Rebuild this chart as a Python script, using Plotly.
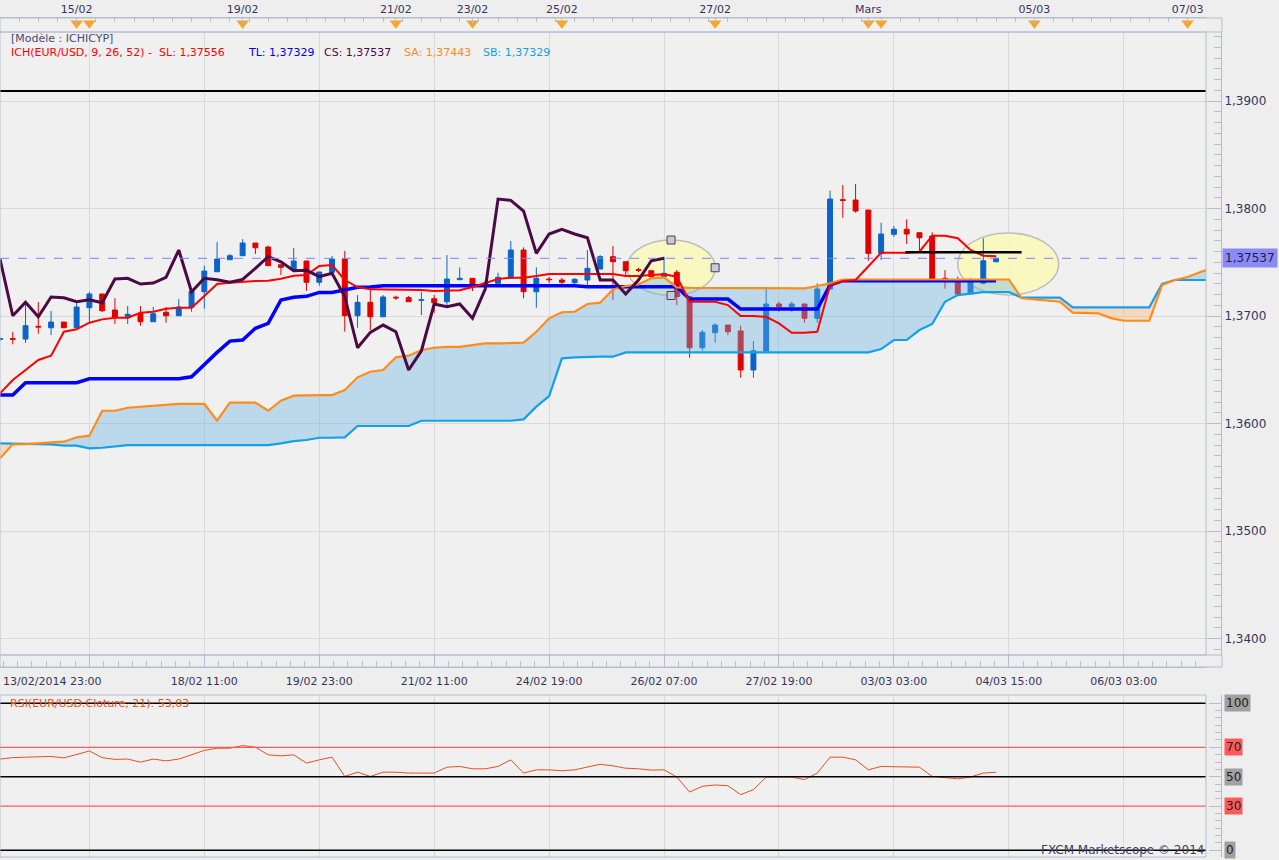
import numpy as np
import plotly.graph_objects as go

W, H = 1279, 860

####
# EUR/USD 4h candles (bar 0 = left edge of the chart)
open_ = [1.36782, 1.36790, 1.36786, 1.36904, 1.36891, 1.36944, 1.36891, 1.37077, 1.37205, 1.37056,
         1.36984, 1.37025, 1.36947, 1.37035, 1.37003, 1.37081, 1.37226, 1.37412, 1.37524, 1.37561,
         1.37679, 1.37642, 1.37477, 1.37428, 1.37512, 1.37314, 1.37407, 1.37530, 1.37003, 1.37128,
         1.36993, 1.37175, 1.37171, 1.37146, 1.37161, 1.37133, 1.37338, 1.37351, 1.37279, 1.37304,
         1.37351, 1.37614, 1.37226, 1.37344, 1.37335, 1.37310, 1.37335, 1.37437, 1.37552, 1.37505,
         1.37431, 1.37421, 1.37366, 1.37407, 1.37180, 1.36705, 1.36845, 1.36916, 1.36861, 1.36498,
         1.36674, 1.37112, 1.37087, 1.37112, 1.36979, 1.37251, 1.38082, 1.38079, 1.37986, 1.37583,
         1.37760, 1.37807, 1.37775, 1.37744, 1.37351, 1.37335, 1.37205, 1.37304, 1.37505]
high = [1.36800, 1.36854, 1.37112, 1.37130, 1.37047, 1.36944, 1.37130, 1.37226, 1.37205, 1.37167,
        1.37093, 1.37093, 1.37084, 1.37084, 1.37158, 1.37230, 1.37468, 1.37688, 1.37577, 1.37716,
        1.37679, 1.37654, 1.37477, 1.37633, 1.37512, 1.37409, 1.37558, 1.37605, 1.37195, 1.37242,
        1.37195, 1.37189, 1.37186, 1.37226, 1.37195, 1.37567, 1.37453, 1.37351, 1.37335, 1.37403,
        1.37698, 1.37639, 1.37453, 1.37363, 1.37354, 1.37354, 1.37614, 1.37567, 1.37651, 1.37505,
        1.37449, 1.37421, 1.37552, 1.37428, 1.37180, 1.36870, 1.36932, 1.36916, 1.36910, 1.36767,
        1.37251, 1.37133, 1.37133, 1.37112, 1.37304, 1.38166, 1.38219, 1.38228, 1.37986, 1.37868,
        1.37837, 1.37900, 1.37775, 1.37778, 1.37428, 1.37366, 1.37354, 1.37723, 1.37546]
low = [1.36770, 1.36737, 1.36749, 1.36835, 1.36823, 1.36891, 1.36891, 1.36947, 1.37037, 1.36926,
       1.36926, 1.36910, 1.36947, 1.36938, 1.37003, 1.37040, 1.37068, 1.37412, 1.37524, 1.37561,
       1.37577, 1.37468, 1.37381, 1.37428, 1.37235, 1.37282, 1.37407, 1.36854, 1.36891, 1.36870,
       1.36993, 1.37149, 1.37133, 1.37009, 1.37031, 1.37093, 1.37338, 1.37233, 1.37242, 1.37304,
       1.37351, 1.37165, 1.37077, 1.37307, 1.37288, 1.37288, 1.37288, 1.37437, 1.37149, 1.37366,
       1.37409, 1.37354, 1.37366, 1.37102, 1.36612, 1.36677, 1.36752, 1.36823, 1.36426, 1.36426,
       1.36674, 1.37040, 1.37040, 1.36938, 1.36938, 1.37251, 1.37914, 1.37961, 1.37514, 1.37521,
       1.37737, 1.37670, 1.37598, 1.37335, 1.37254, 1.37205, 1.37205, 1.37295, 1.37500]
close = [1.36790, 1.36784, 1.36910, 1.36898, 1.36944, 1.36891, 1.37084, 1.37205, 1.37049, 1.36984,
         1.37016, 1.36947, 1.37021, 1.37003, 1.37084, 1.37230, 1.37418, 1.37530, 1.37561, 1.37679,
         1.37635, 1.37468, 1.37453, 1.37512, 1.37314, 1.37409, 1.37530, 1.37003, 1.37128, 1.36993,
         1.37177, 1.37169, 1.37133, 1.37152, 1.37124, 1.37344, 1.37351, 1.37298, 1.37307, 1.37360,
         1.37614, 1.37226, 1.37351, 1.37338, 1.37314, 1.37341, 1.37444, 1.37552, 1.37505, 1.37421,
         1.37425, 1.37366, 1.37397, 1.37180, 1.36705, 1.36848, 1.36916, 1.36854, 1.36498, 1.36677,
         1.37112, 1.37087, 1.37112, 1.36979, 1.37251, 1.38088, 1.38076, 1.37977, 1.37583, 1.37763,
         1.37807, 1.37763, 1.37728, 1.37335, 1.37335, 1.37205, 1.37335, 1.37514, 1.37537]
bars = list(range(len(close)))

# ichimoku (9, 26, 52)
tenkan = [1.36281, 1.36405, 1.36498, 1.36591, 1.36631, 1.36854, 1.36877, 1.36938, 1.36969, 1.36984,
          1.36984, 1.37031, 1.37040, 1.37068, 1.37077, 1.37077, 1.37186, 1.37298, 1.37310, 1.37319,
          1.37326, 1.37328, 1.37347, 1.37375, 1.37381, 1.37465, 1.37474, 1.37335, 1.37270, 1.37248,
          1.37248, 1.37248, 1.37245, 1.37242, 1.37233, 1.37233, 1.37240, 1.37270, 1.37304, 1.37344,
          1.37357, 1.37357, 1.37372, 1.37391, 1.37391, 1.37391, 1.37391, 1.37391, 1.37391, 1.37372,
          1.37372, 1.37381, 1.37388, 1.37366, 1.37133, 1.37133, 1.37133, 1.37102, 1.37000, 1.37000,
          1.36993, 1.36932, 1.36845, 1.36845, 1.36854, 1.37288, 1.37326, 1.37335, 1.37459, 1.37589,
          1.37589, 1.37589, 1.37598, 1.37747, 1.37747, 1.37723, 1.37614, 1.37561, 1.37556]
kijun = [1.36265, 1.36265, 1.36380, 1.36380, 1.36380, 1.36380, 1.36380, 1.36417, 1.36417, 1.36417,
         1.36417, 1.36417, 1.36417, 1.36417, 1.36417, 1.36435, 1.36551, 1.36662, 1.36767, 1.36777,
         1.36886, 1.36932, 1.37149, 1.37174, 1.37183, 1.37220, 1.37220, 1.37242, 1.37267, 1.37270,
         1.37282, 1.37282, 1.37282, 1.37282, 1.37282, 1.37282, 1.37282, 1.37282, 1.37282, 1.37282,
         1.37282, 1.37282, 1.37282, 1.37282, 1.37282, 1.37282, 1.37273, 1.37273, 1.37273, 1.37273,
         1.37273, 1.37273, 1.37273, 1.37273, 1.37158, 1.37158, 1.37158, 1.37158, 1.37065, 1.37065,
         1.37065, 1.37065, 1.37065, 1.37065, 1.37065, 1.37288, 1.37329, 1.37329, 1.37329, 1.37329,
         1.37329, 1.37329, 1.37329, 1.37329, 1.37329, 1.37329, 1.37329, 1.37329, 1.37329]
senkou_a = [1.35676, 1.35807, 1.35809, 1.35816, 1.35819, 1.35831, 1.35872, 1.35887, 1.36119, 1.36119,
            1.36147, 1.36157, 1.36166, 1.36172, 1.36182, 1.36182, 1.36182, 1.36026, 1.36194, 1.36194,
            1.36194, 1.36119, 1.36212, 1.36259, 1.36265, 1.36265, 1.36265, 1.36312, 1.36430, 1.36482,
            1.36498, 1.36616, 1.36631, 1.36684, 1.36705, 1.36714, 1.36714, 1.36730, 1.36746, 1.36746,
            1.36752, 1.36752, 1.36854, 1.36979, 1.37035, 1.37040, 1.37112, 1.37124, 1.37248, 1.37279,
            1.37295, 1.37351, 1.37360, 1.37267, 1.37261, 1.37261, 1.37261, 1.37261, 1.37261, 1.37261,
            1.37261, 1.37261, 1.37261, 1.37258, 1.37279, 1.37304, 1.37340, 1.37340, 1.37340, 1.37340,
            1.37340, 1.37340, 1.37340, 1.37340, 1.37340, 1.37340, 1.37340, 1.37340, 1.37340, 1.37340,
            1.37165, 1.37156, 1.37144, 1.37133, 1.37031, 1.37028, 1.37025, 1.36981, 1.36956, 1.36956,
            1.36956, 1.37288, 1.37335, 1.37363, 1.37409, 1.37447]
senkou_b = [1.35816, 1.35816, 1.35816, 1.35809, 1.35807, 1.35794, 1.35794, 1.35769, 1.35775, 1.35784,
            1.35800, 1.35800, 1.35800, 1.35800, 1.35800, 1.35800, 1.35800, 1.35800, 1.35800, 1.35800,
            1.35800, 1.35800, 1.35816, 1.35837, 1.35847, 1.35868, 1.35868, 1.35872, 1.35977, 1.35977,
            1.35977, 1.35977, 1.35977, 1.36026, 1.36026, 1.36026, 1.36026, 1.36026, 1.36026, 1.36026,
            1.36026, 1.36039, 1.36157, 1.36256, 1.36607, 1.36616, 1.36622, 1.36622, 1.36622, 1.36662,
            1.36662, 1.36662, 1.36662, 1.36662, 1.36662, 1.36662, 1.36662, 1.36662, 1.36662, 1.36662,
            1.36662, 1.36662, 1.36662, 1.36662, 1.36662, 1.36662, 1.36662, 1.36662, 1.36662, 1.36693,
            1.36777, 1.36777, 1.36870, 1.36926, 1.37133, 1.37195, 1.37211, 1.37223, 1.37223, 1.37223,
            1.37171, 1.37171, 1.37171, 1.37171, 1.37081, 1.37081, 1.37081, 1.37081, 1.37081, 1.37081,
            1.37081, 1.37298, 1.37335, 1.37335, 1.37335, 1.37335]
cloud_bars = list(range(len(senkou_a)))
# chikou = close plotted 26 bars back
chikou = close[26:]
chikou_bars = list(range(len(chikou)))

rsi = [62.0, 63.0, 63.3, 63.3, 63.8, 62.8, 64.9, 67.5, 63.0, 61.8,
       62.0, 59.9, 62.0, 60.8, 62.0, 64.9, 67.9, 69.4, 69.4, 71.2,
       70.1, 64.9, 64.2, 64.9, 59.3, 61.5, 63.3, 50.2, 53.1, 50.2,
       53.1, 53.1, 52.5, 52.5, 52.5, 56.5, 57.0, 55.4, 55.4, 57.0,
       61.5, 52.5, 54.7, 54.7, 54.1, 54.7, 56.5, 58.5, 57.4, 55.8,
       55.4, 54.5, 54.7, 49.8, 39.6, 43.5, 44.4, 43.9, 37.8, 41.2,
       49.8, 49.8, 49.8, 48.0, 52.5, 63.3, 63.3, 61.5, 54.7, 57.0,
       57.0, 57.0, 56.5, 50.2, 49.5, 48.6, 49.8, 52.5, 53.03]
rsi_levels = [100, 70, 50, 30, 0]
rsi_level_colors = ['#000000', '#FF5A5A', '#000000', '#FF5A5A', '#000000']
rsi_label_bg = ['#A0A0A0', '#FF5A5A', '#A0A0A0', '#FF5A5A', '#A0A0A0']

# time axis
grid_bars = [7, 16, 25, 34, 43, 52, 61, 70, 79, 88]
grid_labels = ['', '18/02 11:00', '19/02 23:00', '21/02 11:00', '24/02 19:00', '26/02 07:00',
               '27/02 19:00', '03/03 03:00', '04/03 15:00', '06/03 03:00']
first_label = '13/02/2014 23:00'

# calendar events (top strip)
event_bars = [6, 7, 19, 31, 37, 44, 56, 68, 69, 81, 93]
event_label_bars = [6, 19, 31, 37, 44, 56, 68, 81, 93]
event_labels = ['15/02', '19/02', '21/02', '23/02', '25/02', '27/02', 'Mars', '05/03', '07/03']

# user drawings
hline_level = 1.39093
short_line = dict(x0=70.9, x1=80.0, y=1.37593)
ellipses = [dict(x0=49.1, x1=56.0, y0=1.37191, y1=1.37707),
            dict(x0=75.0, x1=82.9, y0=1.37195, y1=1.37772)]
###


def px(xp):
    return xp / W


def py(yp):
    return 1 - yp / H


X_RIGHT = px(1206)
AXIS_X = px(1221)
TXT = '#35355F'
FRAME = '#B4BECE'
GRID = '#DADADA'

fig = go.Figure()

fig.add_trace(go.Candlestick(
    x=bars, open=open_, high=high, low=low, close=close,
    increasing=dict(line=dict(color='#0A64C8', width=1), fillcolor='#0A64C8'),
    decreasing=dict(line=dict(color='#E00000', width=1), fillcolor='#E00000'),
    whiskerwidth=0, hoverinfo='skip'))

# cloud: blue where SA above SB, peach where below
sa = np.array(senkou_a)
sb = np.array(senkou_b)
fig.add_trace(go.Scatter(x=cloud_bars, y=sb, mode='lines', line=dict(width=0), hoverinfo='skip'))
fig.add_trace(go.Scatter(x=cloud_bars, y=np.maximum(sa, sb), mode='lines', line=dict(width=0),
                         fill='tonexty', fillcolor='rgba(100,180,225,0.38)', hoverinfo='skip'))
fig.add_trace(go.Scatter(x=cloud_bars, y=sb, mode='lines', line=dict(width=0), hoverinfo='skip'))
fig.add_trace(go.Scatter(x=cloud_bars, y=np.minimum(sa, sb), mode='lines', line=dict(width=0),
                         fill='tonexty', fillcolor='rgba(254,177,111,0.38)', hoverinfo='skip'))

fig.add_trace(go.Scatter(x=bars, y=kijun, mode='lines', line=dict(color='#0000FF', width=3.5)))
fig.add_trace(go.Scatter(x=cloud_bars, y=senkou_b, mode='lines', line=dict(color='#14A0E6', width=2.2)))
fig.add_trace(go.Scatter(x=cloud_bars, y=senkou_a, mode='lines', line=dict(color='#FF8C1A', width=2.2)))
fig.add_trace(go.Scatter(x=bars, y=tenkan, mode='lines', line=dict(color='#FF0000', width=2)))
fig.add_trace(go.Scatter(x=chikou_bars, y=chikou, mode='lines', line=dict(color='#4B0A46', width=3)))

# ellipse handles
e = ellipses[0]
ex = (e['x0'] + e['x1']) / 2
ey = (e['y0'] + e['y1']) / 2
fig.add_trace(go.Scatter(x=[ex, e['x1'], ex], y=[e['y1'], ey, e['y0']], mode='markers',
                         marker=dict(symbol='square', size=8, color='#C8CAD6',
                                     line=dict(color='#404060', width=1))))

# RSI
fig.add_trace(go.Scatter(x=bars, y=rsi, mode='lines', line=dict(color='#E8501E', width=1),
                         xaxis='x2', yaxis='y2'))

# event markers
fig.add_trace(go.Scatter(x=event_bars, y=[0.62] * len(event_bars), mode='markers',
                         marker=dict(symbol='triangle-down', size=11, color='#F7A52A'),
                         xaxis='x3', yaxis='y3'))

shapes = []
for e in ellipses:
    shapes.append(dict(type='circle', xref='x', yref='y', x0=e['x0'], x1=e['x1'], y0=e['y0'], y1=e['y1'],
                       fillcolor='rgba(250,248,190,0.95)', line=dict(color='#BDBDBD', width=1.5),
                       layer='between'))
shapes.append(dict(type='line', xref='paper', yref='y', x0=0, x1=X_RIGHT, y0=close[-1], y1=close[-1],
                   line=dict(color='#8080FF', width=1, dash='dash')))
shapes.append(dict(type='line', xref='paper', yref='y', x0=0, x1=X_RIGHT, y0=hline_level, y1=hline_level,
                   line=dict(color='#000000', width=2)))
shapes.append(dict(type='line', xref='x', yref='y', x0=short_line['x0'], x1=short_line['x1'],
                   y0=short_line['y'], y1=short_line['y'], line=dict(color='#000000', width=2.5)))
for lv, c in zip(rsi_levels, rsi_level_colors):
    shapes.append(dict(type='line', xref='paper', yref='y2', x0=0, x1=X_RIGHT, y0=lv, y1=lv,
                       line=dict(color=c, width=1.3)))
# panel frames
for (l, t, r, b) in [(0, 32, 1206, 655), (0, 695, 1206, 857), (0, 18, 1222, 32), (0, 655, 1222, 667)]:
    shapes.append(dict(type='rect', xref='paper', yref='paper', x0=px(l), x1=px(r), y0=py(b), y1=py(t),
                       line=dict(color=FRAME, width=1), fillcolor='rgba(0,0,0,0)'))

ann = []
ann.append(dict(text='[Modèle : ICHICYP]', x=px(9), y=py(39), xanchor='left', yanchor='middle',
                font=dict(color='#4A4A78')))
legend_items = [('ICH(EUR/USD, 9, 26, 52) -  SL: 1,37556', '#FF0000', 9),
                ('TL: 1,37329', '#0000FF', 246),
                ('CS: 1,37537', '#4B0A46', 322),
                ('SA: 1,37443', '#FF8C1A', 402),
                ('SB: 1,37329', '#14A0E6', 481)]
for t, c, x in legend_items:
    ann.append(dict(text=t, x=px(x), y=py(52), xanchor='left', yanchor='middle', font=dict(color=c)))
ann.append(dict(text='RSI(EUR/USD.Cloture, 21): ' + f'{rsi[-1]:.2f}'.replace('.', ','),
                x=px(8), y=py(703), xanchor='left', yanchor='middle', font=dict(color='#E8501E')))
ann.append(dict(text=first_label, x=px(1), y=py(681), xanchor='left', yanchor='middle'))
ann.append(dict(text=f'{close[-1]:.5f}'.replace('.', ','), x=px(1222), y=close[-1], yref='y',
                xanchor='left', yanchor='middle', bgcolor='#8A8AF8', borderpad=2,
                font=dict(size=12, color='#202040')))
for lv, bg in zip(rsi_levels, rsi_label_bg):
    ann.append(dict(text=str(lv), x=px(1224), y=lv, yref='y2', xanchor='left', yanchor='middle',
                    bgcolor=bg, borderpad=1, font=dict(size=12, color='#202020')))
ann.append(dict(text='FXCM Marketscope © 2014', x=px(1206), y=py(850), xanchor='right', yanchor='middle',
                font=dict(size=12, color='#404060')))
for a in ann:
    a.setdefault('xref', 'paper')
    a.setdefault('yref', 'paper')
    a['showarrow'] = False

fig.update_layout(
    width=W, height=H, margin=dict(l=0, r=0, t=0, b=0),
    paper_bgcolor='#EEEEEE', plot_bgcolor='#F0F0F0',
    separators=',.', showlegend=False, boxgap=0.45,
    font=dict(family='DejaVu Sans', size=11, color=TXT),
    shapes=shapes, annotations=ann,
    xaxis=dict(domain=[0, X_RIGHT], range=[0, 1206 / 12.77], anchor='free', position=py(667),
               rangeslider=dict(visible=False), tickmode='array', tickvals=grid_bars, ticktext=grid_labels,
               ticks='inside', ticklen=12, tickcolor=FRAME, showgrid=True, gridcolor=GRID,
               showline=True, linecolor=FRAME, zeroline=False, ticklabelstandoff=4,
               minor=dict(ticks='inside', ticklen=6, tickcolor=FRAME, tick0=7, dtick=1.125, showgrid=False)),
    xaxis2=dict(domain=[0, X_RIGHT], matches='x', anchor='y2', tickmode='array', tickvals=grid_bars,
                showticklabels=False, ticks='', showgrid=True, gridcolor=GRID, zeroline=False),
    xaxis3=dict(domain=[0, X_RIGHT], matches='x', anchor='y3', side='top', tickmode='array',
                tickvals=event_label_bars, ticktext=event_labels, ticks='inside', ticklen=6,
                tickcolor=FRAME, showgrid=False, showline=True, linecolor=FRAME, zeroline=False,
                minor=dict(ticks='inside', ticklen=4, tickcolor=FRAME, tick0=0, dtick=1.5, showgrid=False)),
    yaxis=dict(domain=[py(655), py(32)], range=[1.33847, 1.39642], side='right', anchor='free',
               position=AXIS_X, tick0=1.34, dtick=0.01, tickformat='.4f', ticks='inside', ticklen=14,
               tickcolor=FRAME, showgrid=True, gridcolor=GRID, showline=True, linecolor=FRAME,
               zeroline=False, tickfont=dict(size=12),
               minor=dict(ticks='inside', ticklen=7, tickcolor=FRAME, tick0=1.34, dtick=0.001, showgrid=False)),
    yaxis2=dict(domain=[py(857), py(695)], range=[-4.6, 105.6], side='right', anchor='free',
                position=AXIS_X, tickmode='array', tickvals=rsi_levels, showticklabels=False,
                ticks='inside', ticklen=12, tickcolor=FRAME, showgrid=False, showline=True,
                linecolor=FRAME, zeroline=False,
                minor=dict(ticks='inside', ticklen=6, tickcolor=FRAME, tick0=0, dtick=5, showgrid=False)),
    yaxis3=dict(domain=[py(32), py(18)], range=[0, 1], anchor='x3', visible=False),
)

# page body has a default margin; remove it so the figure sits at the window's corner
fig.write_html("out.html", config={'displayModeBar': False},
               post_script="document.body.style.margin='0';document.body.style.overflow='hidden';")
